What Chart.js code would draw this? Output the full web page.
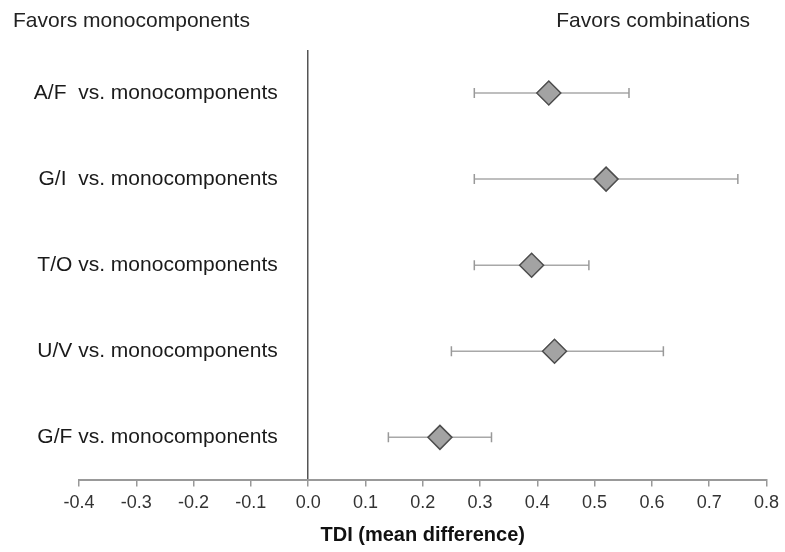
<!DOCTYPE html>
<html>
<head>
<meta charset="utf-8">
<script src="https://cdn.jsdelivr.net/npm/chart.js@4.4.1/dist/chart.umd.min.js"></script>
<style>
  body { margin: 0; background: #fff; }
  #wrap { position: relative; width: 785px; height: 552px; font-family: 'Liberation Sans', Arial, sans-serif; }
  .hdr { position: absolute; top: 8px; font-size: 21px; line-height: 24px; color: #222; white-space: nowrap; }
  #hdrLeft { left: 13px; }
  #hdrRight { right: 35px; }
</style>
</head>
<body>
<div id="wrap">
  <canvas id="forest" width="785" height="552"></canvas>
  <div class="hdr" id="hdrLeft">Favors monocomponents</div>
  <div class="hdr" id="hdrRight">Favors combinations</div>
</div>
<script>
// comparisons, top to bottom
const categories = [
  'A/F  vs. monocomponents',
  'G/I  vs. monocomponents',
  'T/O vs. monocomponents',
  'U/V vs. monocomponents',
  'G/F vs. monocomponents'
];
// TDI mean difference and 95% CI
const meanDiff = [0.42, 0.52, 0.39, 0.43, 0.23];
const ciLow = [0.29, 0.29, 0.29, 0.25, 0.14];
const ciHigh = [0.56, 0.75, 0.49, 0.62, 0.32];

const xMin = -0.4;
const xMax = 0.8;
const xStep = 0.1;
const xTitle = 'TDI (mean difference)';

const font = "'Liberation Sans', Arial, sans-serif";

// one dataset per whisker: line between low and high, vertical caps at ends
const whiskers = categories.map((cat, i) => ({
  data: [{ x: ciLow[i], y: cat }, { x: ciHigh[i], y: cat }],
  showLine: true,
  borderColor: '#a8a8a8',
  borderWidth: 1.5,
  pointStyle: 'line',
  rotation: 90,
  pointRadius: 5,
  pointBorderColor: '#999',
  pointBorderWidth: 1.5,
  order: 2
}));

const means = {
  data: categories.map((cat, i) => ({ x: meanDiff[i], y: cat })),
  pointStyle: 'rectRot',
  pointRadius: 12,
  backgroundColor: '#a3a3a3',
  borderColor: '#4d4d4d',
  borderWidth: 1.5,
  order: 1
};

new Chart(document.getElementById('forest'), {
  type: 'scatter',
  data: { datasets: [...whiskers, means] },
  options: {
    responsive: false,
    animation: false,
    events: [],
    layout: { padding: { top: 50, left: 79, right: 17, bottom: 0 } },
    plugins: {
      legend: { display: false },
      tooltip: { enabled: false }
    },
    scales: {
      x: {
        type: 'linear',
        min: xMin,
        max: xMax,
        ticks: {
          stepSize: xStep,
          padding: 6,
          color: '#333',
          font: { family: font, size: 18 },
          callback: v => v.toFixed(1)
        },
        grid: {
          drawOnChartArea: true,
          color: c => (c.tick && Math.abs(c.tick.value) < 1e-9 ? '#555' : 'rgba(0,0,0,0)'),
          lineWidth: 1.5,
          tickColor: '#999',
          tickLength: 6,
          tickWidth: 1.5
        },
        border: { color: '#999', width: 2 },
        title: {
          display: true,
          text: xTitle,
          color: '#111',
          font: { family: font, size: 20, weight: 'bold' },
          padding: { top: 3, bottom: 5 }
        }
      },
      y: {
        type: 'category',
        labels: categories,
        offset: true,
        position: { x: -0.053 },
        grid: { display: false },
        border: { display: false },
        ticks: {
          color: '#1a1a1a',
          font: { family: font, size: 21 }
        }
      }
    }
  }
});
</script>
</body>
</html>
